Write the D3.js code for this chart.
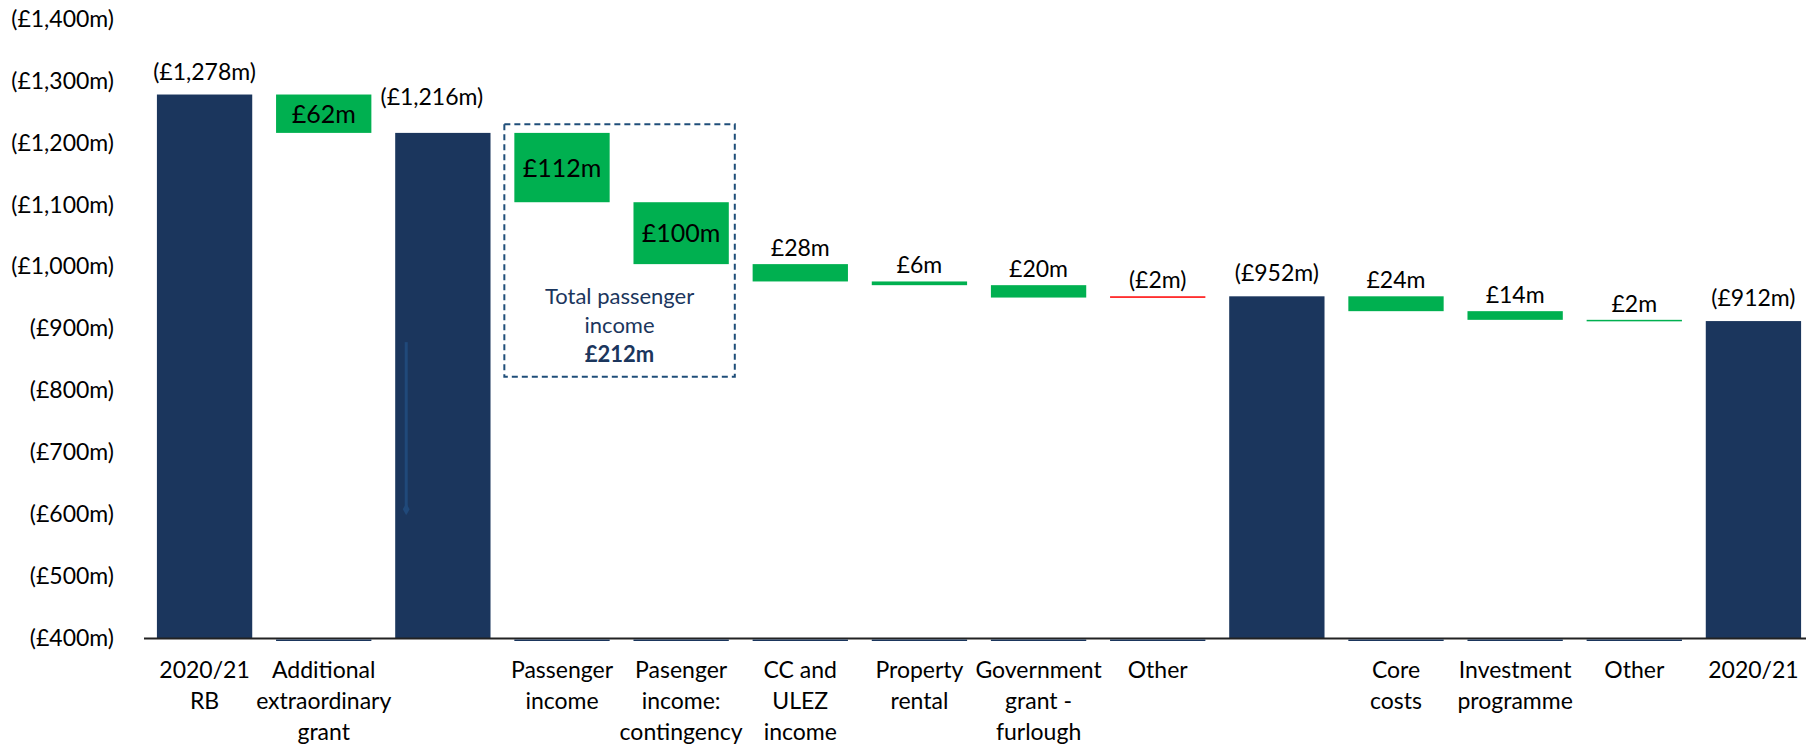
<!DOCTYPE html>
<html>
<head>
<meta charset="utf-8">
<script src="https://d3js.org/d3.v7.min.js"></script>
<style>
  body { margin: 0; background: #fff; }
  svg text { font-family: Lato, "Open Sans", sans-serif; fill: #000; }
</style>
</head>
<body>
<div id="chart"></div>
<script>
  // categories (line breaks as in the original slide)
  var categories = [
    "2020/21\nRB", "Additional\nextraordinary\ngrant", "", "Passenger\nincome",
    "Pasenger\nincome:\ncontingency", "CC and\nULEZ\nincome", "Property\nrental",
    "Government\ngrant -\nfurlough", "Other", "", "Core\ncosts",
    "Investment\nprogramme", "Other", "2020/21"
  ];
  // "total" bars stand on the axis, "delta" bars float
  var kinds = ["total", "delta", "total", "delta", "delta", "delta", "delta",
               "delta", "delta", "total", "delta", "delta", "delta", "total"];
  // totals as absolute values, deltas as change (negative = reduction, shown green)
  var values = [1278, -62, 1216, -112, -100, -28, -6, -20, 2, 952, -24, -14, -2, 912];
  var yTicks = [400, 500, 600, 700, 800, 900, 1000, 1100, 1200, 1300, 1400];
  var boxText = ["Total passenger", "income", "£212m"];

  var navy = "#1b365d", green = "#00b050", red = "#ff0000";
  var width = 1810, height = 749;

  var svg = d3.select("#chart").append("svg")
    .attr("width", width)
    .attr("height", height);

  var x = d3.scaleBand()
    .domain(d3.range(categories.length))
    .range([145, 1813])
    .paddingInner(0.2)
    .paddingOuter(0.1);

  var y = d3.scaleLinear()
    .domain([400, 1400])
    .range([638, 19]);

  // build waterfall segments
  var running = 0;
  var bars = values.map(function (v, i) {
    var d = {i: i, kind: kinds[i], value: v};
    if (kinds[i] == "total") {
      d.lo = 400; d.hi = v; running = v;
      d.color = navy;
      d.label = "(£" + d3.format(",")(v) + "m)";
    } else {
      var start = running, end = running + v;
      d.lo = Math.min(start, end); d.hi = Math.max(start, end);
      running = end;
      d.color = v < 0 ? green : red;
      d.label = v < 0 ? "£" + Math.abs(v) + "m" : "(£" + v + "m)";
    }
    return d;
  });

  // y axis labels
  var yAxis = d3.axisLeft(y)
    .tickValues(yTicks)
    .tickSize(0)
    .tickPadding(0)
    .tickFormat(function (d) {return "(£" + d3.format(",")(d) + "m)";});
  var yg = svg.append("g")
    .attr("transform", "translate(114,0)")
    .call(yAxis);
  yg.select(".domain").remove();
  yg.selectAll("text")
    .style("font-size", "23px")
    .style("font-family", "Lato, sans-serif")
    .attr("fill", "#000");

  // dashed box round the passenger income bars
  var bx0 = x(3) - 10, bx1 = x(4) + x.bandwidth() + 6;
  svg.append("rect")
    .attr("x", bx0)
    .attr("y", y(1230))
    .attr("width", bx1 - bx0)
    .attr("height", y(822) - y(1230))
    .attr("fill", "none")
    .attr("stroke", "#1f4e79")
    .attr("stroke-width", 2)
    .attr("stroke-dasharray", "6,4");

  svg.append("g").selectAll("text")
    .data(boxText)
    .enter().append("text")
    .attr("x", (bx0 + bx1) / 2)
    .attr("y", function (d, i) {return 304 + i * 29;})
    .attr("text-anchor", "middle")
    .style("font-size", "22px")
    .style("fill", navy)
    .style("font-weight", function (d, i) {return i == 2 ? "bold" : "normal";})
    .text(function (d) {return d;});

  // bars
  svg.append("g").selectAll("rect")
    .data(bars)
    .enter().append("rect")
    .attr("x", function (d) {return x(d.i);})
    .attr("y", function (d) {return y(d.hi);})
    .attr("width", x.bandwidth())
    .attr("height", function (d) {return Math.max(1.5, y(d.lo) - y(d.hi));})
    .attr("fill", function (d) {return d.color;});

  // faint arrow left inside the second total bar
  svg.append("line")
    .attr("x1", x(2) + 11).attr("x2", x(2) + 11)
    .attr("y1", y(878)).attr("y2", y(610))
    .attr("stroke", "#20497a")
    .attr("stroke-width", 3);
  svg.append("path")
    .attr("d", d3.symbol(d3.symbolDiamond, 40)())
    .attr("transform", "translate(" + (x(2) + 11) + "," + y(608) + ")")
    .attr("fill", "#20497a");

  // axis line, with the hidden base bars peeking under the floating ones
  svg.append("line")
    .attr("x1", 144).attr("x2", 1806)
    .attr("y1", y(400) + 0.5).attr("y2", y(400) + 0.5)
    .attr("stroke", "#222")
    .attr("stroke-width", 2);
  svg.append("g").selectAll("rect")
    .data(bars.filter(function (d) {return d.kind == "delta";}))
    .enter().append("rect")
    .attr("x", function (d) {return x(d.i);})
    .attr("y", y(400) + 1.5)
    .attr("width", x.bandwidth())
    .attr("height", 1.5)
    .attr("fill", navy);

  // value labels
  svg.append("g").selectAll("text")
    .data(bars)
    .enter().append("text")
    .attr("x", function (d) {return x(d.i) + x.bandwidth() / 2 + (d.i == 2 ? -11 : 0);})
    .attr("y", function (d) {
      var inside = d.kind == "delta" && Math.abs(d.value) >= 50;
      if (inside) return (y(d.hi) + y(d.lo)) / 2 + 9;
      if (d.kind == "total") return y(d.hi) - (d.i == 2 ? 28 : 15);
      return y(d.hi) - 8;
    })
    .attr("text-anchor", "middle")
    .style("font-size", function (d) {
      return d.kind == "delta" && Math.abs(d.value) >= 50 ? "25px" : "23px";
    })
    .text(function (d) {return d.label;});

  // category labels
  var cat = svg.append("g").selectAll("text")
    .data(categories)
    .enter().append("text")
    .attr("x", function (d, i) {return x(i) + x.bandwidth() / 2;})
    .attr("y", 678)
    .attr("text-anchor", "middle")
    .style("font-size", "23px");
  cat.selectAll("tspan")
    .data(function (d) {return d ? d.split("\n") : [];})
    .enter().append("tspan")
    .attr("x", function () {return this.parentNode.getAttribute("x");})
    .attr("dy", function (d, i) {return i == 0 ? 0 : 31;})
    .text(function (d) {return d;});
</script>
</body>
</html>
